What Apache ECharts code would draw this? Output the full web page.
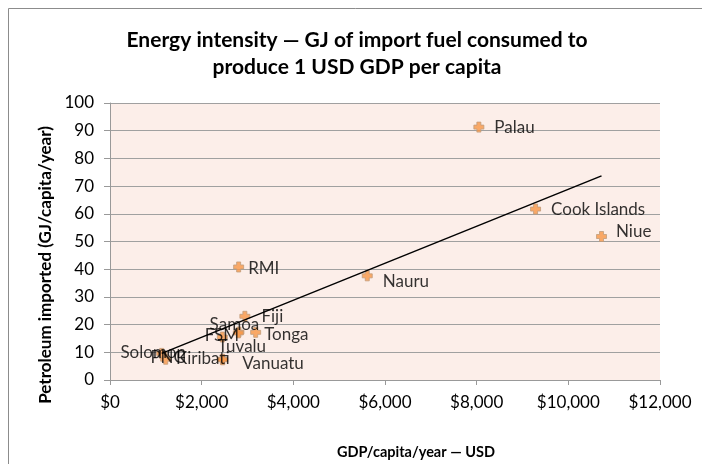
<!DOCTYPE html>
<html>
<head>
<meta charset="utf-8">
<script src="https://cdn.jsdelivr.net/npm/echarts@6/dist/echarts.min.js"></script>
<style>
  html, body { margin: 0; padding: 0; background: #fff; }
  #chart { width: 702px; height: 464px; }
</style>
</head>
<body>
<div id="chart"></div>
<script>
  // values
  const countries = ['Solomon', 'PNG', 'Kiribati', 'FSM', 'Samoa', 'Fiji', 'Tonga', 'Tuvalu', 'Vanuatu', 'RMI', 'Nauru', 'Palau', 'Cook Islands', 'Niue'];
  const gdpPerCapita = [1128, 1215, 2451, 2451, 2813, 2943, 3178, 2800, 2460, 2807, 5613, 8048, 9285, 10724];
  const fuelImported = [9.6, 7.5, 7.5, 15.5, 17.3, 23.0, 17.2, 17.0, 7.3, 40.8, 37.6, 91.3, 61.7, 51.8];
  // linear trendline end points as drawn
  const trendGdp = [1128, 10724];
  const trendFuel = [9.6, 73.7];
  const xTicks = [0, 2000, 4000, 6000, 8000, 10000, 12000];

  // label placement per country: [align, dx, dy] from the marker centre
  const labelPlace = {
    'Solomon': ['center', -8, 0],
    'PNG': ['center', 3, -1],
    'Kiribati': ['right', 8, 0],
    'FSM': ['center', 0, -1],
    'Samoa': ['center', -4, -7],
    'Fiji': ['left', 17, 1],
    'Tonga': ['left', 9, 3],
    'Tuvalu': ['left', -20, 14],
    'Vanuatu': ['left', 20, 4],
    'RMI': ['left', 10, 2],
    'Nauru': ['left', 16, 6],
    'Palau': ['left', 16, 1],
    'Cook Islands': ['left', 16, 1],
    'Niue': ['left', 15, -4]
  };

  const font = 'Lato, "Open Sans", sans-serif';
  const plus = 'path://M3,0H7V3H10V7H7V10H3V7H0V3H3Z';
  const symSize = 10;

  const points = countries.map(function (name, i) {
    const p = labelPlace[name];
    return {
      name: name,
      value: [gdpPerCapita[i], fuelImported[i]],
      label: {
        position: [symSize / 2 + p[1], symSize / 2 + p[2]],
        align: p[0], verticalAlign: 'middle'
      }
    };
  });

  const chart = echarts.init(document.getElementById('chart'), null, { renderer: 'canvas' });
  chart.setOption({
    animation: false,
    backgroundColor: '#fff',
    textStyle: { fontFamily: font },
    graphic: [
      {
        type: 'rect', silent: true, z: -10,
        shape: { x: 8.5, y: 8.5, width: 720, height: 480 },
        style: { fill: 'none', stroke: '#8c8c8c', lineWidth: 1 }
      },
      {
        type: 'text', x: 357, y: 27,
        style: {
          text: 'Energy intensity — GJ of import fuel consumed to\nproduce 1 USD GDP per capita',
          font: 'bold 21px ' + font, fill: '#000', align: 'center', lineHeight: 27
        }
      },
      {
        type: 'text', rotation: Math.PI / 2,
        x: 46, y: 265,
        style: {
          text: 'Petroleum imported (GJ/capita/year)',
          font: 'bold 17px ' + font, fill: '#000', align: 'center', verticalAlign: 'middle'
        }
      },
      {
        type: 'text', x: 416, y: 452,
        style: {
          text: 'GDP/capita/year — USD',
          font: 'bold 14.5px ' + font, fill: '#000', align: 'center', verticalAlign: 'middle'
        }
      }
    ],
    grid: {
      left: 110, right: 42, top: 103, bottom: 84,
      show: true, backgroundColor: '#FCEEE9', borderWidth: 0
    },
    xAxis: {
      type: 'value', min: 0, max: 12000, interval: 2000,
      axisLine: { show: true, onZero: false, lineStyle: { color: '#999', width: 1 } },
      axisTick: { show: true, length: 5, lineStyle: { color: '#999' } },
      splitLine: { show: false },
      axisLabel: {
        color: '#000', fontSize: 17, margin: 14,
        formatter: function (v) {
          return xTicks.indexOf(v) >= 0 ? '$' + v.toLocaleString('en-US') : '';
        }
      }
    },
    yAxis: {
      type: 'value', min: 0, max: 100, interval: 10,
      axisLine: { show: true, lineStyle: { color: '#999', width: 1 } },
      axisTick: { show: true, length: 6, lineStyle: { color: '#999' } },
      splitLine: { show: true, lineStyle: { color: '#a0a0a0', width: 1 } },
      axisLabel: { color: '#000', fontSize: 17, margin: 16 }
    },
    series: [
      {
        type: 'scatter',
        symbol: plus,
        symbolSize: symSize,
        itemStyle: { color: '#F79646', borderColor: '#C09C7C', borderWidth: 1 },
        label: {
          show: true, formatter: '{b}',
          color: '#000', fontSize: 17
        },
        labelLayout: { hideOverlap: false },
        data: points,
        z: 3
      },
      {
        type: 'line',
        data: trendGdp.map(function (x, i) { return [x, trendFuel[i]]; }),
        symbol: 'none',
        lineStyle: { color: '#000', width: 1.5 },
        z: 4
      }
    ]
  });
</script>
</body>
</html>
